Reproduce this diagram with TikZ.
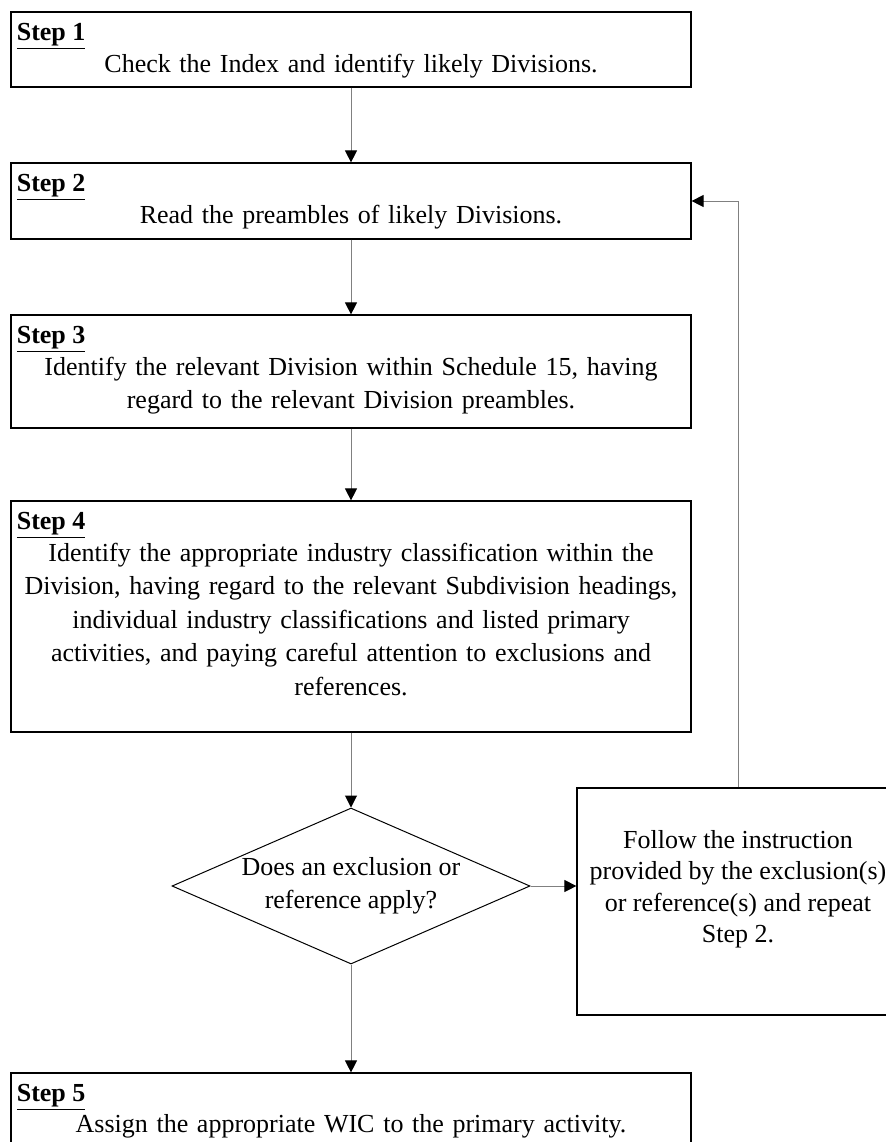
\documentclass[tikz,border=0pt]{standalone}
\usepackage{fontspec}
\setmainfont{Liberation Serif}
\usetikzlibrary{positioning,shapes.geometric,arrows.meta}

\begin{document}
\begin{tikzpicture}[x=0.5pt, y=-0.5pt,
	font=\fontsize{13pt}{16.75pt}\selectfont,
	stepbox/.style={rectangle, draw=black, line width=0.6pt, minimum width=340pt, inner sep=0pt},
	stephead/.style={anchor=north west, inner sep=0pt, font=\fontsize{13pt}{16.75pt}\selectfont\bfseries},
	steptext/.style={text width=340pt, align=center, inner sep=0pt},
	link/.style={draw=black!50, line width=0.5pt, -{Triangle[length=6pt, width=6pt, color=black]}}]
	\useasboundingbox (0,0) rectangle (886,1142);
	% the five steps
	\node (S1) at (351,  49.5)	[stepbox, minimum height=37.5pt]	{};
	\node (S2) at (351, 201)	[stepbox, minimum height=38pt]	{};
	\node (S3) at (351, 371.5)	[stepbox, minimum height=56.5pt]	{};
	\node (S4) at (351, 616.5)	[stepbox, minimum height=115.5pt]	{};
	\node (S5) at (351, 1110.5)	[stepbox, minimum height=37.5pt]	{};
	\node (H1) [stephead, below right=5.5pt and 3pt of S1.north west]	{\underline{Step 1}};
	\node (H2) [stephead, below right=5.5pt and 3pt of S2.north west]	{\underline{Step 2}};
	\node (H3) [stephead, below right=5.5pt and 3pt of S3.north west]	{\underline{Step 3}};
	\node (H4) [stephead, below right=5.5pt and 3pt of S4.north west]	{\underline{Step 4}};
	\node (H5) [stephead, below right=5.5pt and 3pt of S5.north west]	{\underline{Step 5}};
	\node (T1) [steptext, below=21pt of S1.north]	{Check the Index and identify likely Divisions.};
	\node (T2) [steptext, below=21pt of S2.north]	{Read the preambles of likely Divisions.};
	\node (T3) [steptext, below=21pt of S3.north]	{Identify the relevant Division within Schedule 15, having\\regard to the relevant Division preambles.};
	\node (T4) [steptext, below=21pt of S4.north]	{Identify the appropriate industry classification within the\\Division, having regard to the relevant Subdivision headings,\\individual industry classifications and listed primary\\activities, and paying careful attention to exclusions and\\references.};
	\node (T5) [steptext, below=21pt of S5.north]	{Assign the appropriate WIC to the primary activity.};
	% decision and loop back
	\node (D) at (351, 886)	[diamond, draw, line width=0.5pt, aspect=2.3, minimum width=179pt, minimum height=78pt, inner sep=0pt, align=center]	{Does an exclusion or\\reference apply?};
	\node (F) at (738, 901.5)	[rectangle, draw=black, line width=0.6pt, minimum width=161pt, minimum height=113.5pt, inner sep=0pt]	{};
	\node (FT) at (738, 889)	[align=center, font=\fontsize{13pt}{15.75pt}\selectfont]	{Follow the instruction\\provided by the exclusion(s)\\or reference(s) and repeat\\Step 2.};
	\draw[link] (S1.south) -- (S2.north);
	\draw[link] (S2.south) -- (S3.north);
	\draw[link] (S3.south) -- (S4.north);
	\draw[link] (S4.south) -- (D.north);
	\draw[link] (D.south) -- (S5.north);
	\draw[link] (D.east) -- (D.east -| F.west);
	\draw[link] (F.north) |- (S2.east);
\end{tikzpicture}
\end{document}
